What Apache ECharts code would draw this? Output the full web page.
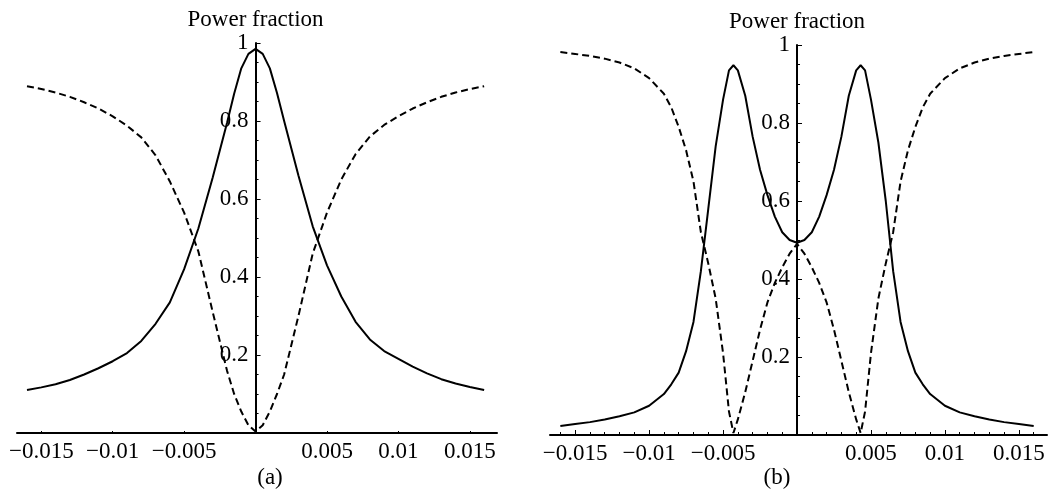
<!DOCTYPE html>
<html>
<head>
<meta charset="utf-8">
<script src="https://cdn.jsdelivr.net/npm/echarts@6/dist/echarts.min.js"></script>
<style>
  html, body { margin: 0; padding: 0; background: #fff; }
  #chart { width: 1049px; height: 495px; }
</style>
</head>
<body>
<div id="chart"></div>
<script>
// Detuning values for panel (a)
const xA = [
  -0.016, -0.015, -0.014, -0.013, -0.012, -0.011, -0.010, -0.009, -0.008,
  -0.007, -0.006, -0.005, -0.004, -0.003, -0.002, -0.0015, -0.001, -0.0005, 0,
  0.0005, 0.001, 0.0015, 0.002, 0.003, 0.004, 0.005, 0.006, 0.007, 0.008,
  0.009, 0.010, 0.011, 0.012, 0.013, 0.014, 0.015, 0.016
];
// Power fraction, solid curve (a)
const solidA = [
  0.110, 0.117, 0.125, 0.136, 0.150, 0.166, 0.184, 0.205, 0.236,
  0.280, 0.335, 0.420, 0.525, 0.655, 0.795, 0.870, 0.935, 0.972, 0.985,
  0.972, 0.935, 0.872, 0.800, 0.660, 0.530, 0.430, 0.350, 0.285, 0.240,
  0.210, 0.190, 0.170, 0.153, 0.138, 0.127, 0.118, 0.110
];
// Power fraction, dashed curve (a)
const dashedA = [
  0.889, 0.882, 0.873, 0.862, 0.848, 0.832, 0.812, 0.788, 0.758,
  0.712, 0.645, 0.565, 0.465, 0.310, 0.160, 0.100, 0.055, 0.020, 0.004,
  0.020, 0.055, 0.100, 0.150, 0.300, 0.460, 0.565, 0.650, 0.715, 0.760,
  0.790, 0.812, 0.832, 0.848, 0.862, 0.873, 0.882, 0.889
];

// Detuning values for panel (b)
const xB = [
  -0.016, -0.015, -0.014, -0.013, -0.012, -0.011, -0.010, -0.009, -0.0085,
  -0.008, -0.0075, -0.007, -0.0065, -0.006, -0.0055, -0.005, -0.0046, -0.0043,
  -0.004, -0.0035, -0.003, -0.0025, -0.002, -0.0015, -0.001, -0.0005, 0,
  0.0005, 0.001, 0.0015, 0.002, 0.0025, 0.003, 0.0035, 0.004,
  0.0043, 0.0046, 0.005, 0.0055, 0.006, 0.0065, 0.007, 0.0075,
  0.008, 0.0085, 0.009, 0.010, 0.011, 0.012, 0.013, 0.014, 0.015, 0.016
];
// Power fraction, solid curve (b)
const solidB = [
  0.023, 0.028, 0.033, 0.040, 0.048, 0.058, 0.075, 0.105, 0.130,
  0.160, 0.215, 0.290, 0.420, 0.580, 0.740, 0.860, 0.935, 0.948,
  0.935, 0.870, 0.765, 0.680, 0.615, 0.560, 0.520, 0.500, 0.493,
  0.500, 0.520, 0.560, 0.615, 0.680, 0.765, 0.870, 0.935,
  0.948, 0.935, 0.860, 0.750, 0.600, 0.420, 0.290, 0.215,
  0.160, 0.130, 0.105, 0.075, 0.058, 0.048, 0.040, 0.033, 0.028, 0.023
];
// Power fraction, dashed curve (b)
const dashedB = [
  0.982, 0.977, 0.972, 0.965, 0.955, 0.940, 0.915, 0.875, 0.840,
  0.790, 0.730, 0.650, 0.520, 0.440, 0.350, 0.210, 0.060, 0.005,
  0.040, 0.110, 0.190, 0.270, 0.340, 0.390, 0.430, 0.465, 0.490,
  0.465, 0.430, 0.390, 0.340, 0.270, 0.190, 0.110, 0.040,
  0.005, 0.060, 0.210, 0.350, 0.440, 0.520, 0.650, 0.730,
  0.790, 0.840, 0.875, 0.915, 0.940, 0.955, 0.965, 0.972, 0.977, 0.982
];

// Axis ticks
const xMajorTicks = [-0.015, -0.01, -0.005, 0.005, 0.01, 0.015];
const xMinorTicks = [
  -0.016, -0.014, -0.013, -0.012, -0.011, -0.009, -0.008, -0.007, -0.006,
  -0.004, -0.003, -0.002, -0.001, 0.001, 0.002, 0.003, 0.004,
  0.006, 0.007, 0.008, 0.009, 0.011, 0.012, 0.013, 0.014, 0.016
];
const yTickStep = 0.2;
const yAxisTitle = 'Power fraction';
const panelLabels = ['(a)', '(b)'];

const FONT = '"Liberation Serif", "DejaVu Serif", serif';
const FONT_SIZE = 23;
const INK = '#000';
const X_MIN = -0.0167;
const X_MAX = 0.0169;

// Plot frames of the two panels
const frames = [
  { left: 17, top: 43, width: 480, height: 390 },
  { left: 550, top: 45, width: 497, height: 390 }
];

function pairs(xs, ys) {
  return xs.map((x, i) => [x, ys[i]]);
}

function fmtX(v) {
  return String(v).replace('-', '\u2212');
}

function xAxisMain(grid, tickLen) {
  return {
    type: 'value', gridIndex: grid, position: 'bottom',
    min: X_MIN, max: X_MAX,
    axisLine: { show: true, onZero: false, lineStyle: { color: INK, width: 2 } },
    axisTick: { show: true, inside: true, length: tickLen, customValues: xMajorTicks,
      lineStyle: { color: INK, width: 1 } },
    axisLabel: { show: true, customValues: xMajorTicks, formatter: fmtX,
      color: INK, fontFamily: FONT, fontSize: FONT_SIZE, margin: 7 },
    splitLine: { show: false }
  };
}

function xAxisMinor(grid) {
  return {
    type: 'value', gridIndex: grid, position: 'bottom',
    min: X_MIN, max: X_MAX,
    axisLine: { show: false, onZero: false },
    axisTick: { show: true, inside: true, length: 3, customValues: xMinorTicks,
      lineStyle: { color: INK, width: 1 } },
    axisLabel: { show: false },
    splitLine: { show: false }
  };
}

// Vertical axis drawn through x = 0 of its panel
function yAxisMain(grid) {
  const f = frames[grid];
  const shift = f.width * (0 - X_MIN) / (X_MAX - X_MIN);
  return {
    type: 'value', gridIndex: grid, position: 'left', offset: -shift,
    min: 0, max: 1, interval: yTickStep,
    name: yAxisTitle, nameLocation: 'end', nameGap: 12,
    nameTextStyle: { color: INK, fontFamily: FONT, fontSize: FONT_SIZE },
    axisLine: { show: true, onZero: false, lineStyle: { color: INK, width: 2 } },
    axisTick: { show: true, inside: true, length: 5, lineStyle: { color: INK, width: 1 } },
    minorTick: { show: true, splitNumber: 4, length: 3, lineStyle: { color: INK, width: 1 } },
    axisLabel: { color: INK, fontFamily: FONT, fontSize: FONT_SIZE, margin: 7,
      formatter: v => (v === 0 ? '' : String(v)) },
    splitLine: { show: false },
    minorSplitLine: { show: false }
  };
}

function curve(xi, yi, data, dashed) {
  return {
    type: 'line', xAxisIndex: xi, yAxisIndex: yi, data: data,
    showSymbol: false, smooth: false, silent: true,
    lineStyle: { color: INK, width: 2, type: dashed ? [7, 4] : 'solid' }
  };
}

const chart = echarts.init(document.getElementById('chart'), null, { renderer: 'canvas' });
chart.setOption({
  animation: false,
  backgroundColor: '#fff',
  grid: frames.map(f => Object.assign({ outerBoundsMode: 'none', containLabel: false }, f)),
  xAxis: [xAxisMain(0, 2), xAxisMain(1, 5), xAxisMinor(1)],
  yAxis: [yAxisMain(0), yAxisMain(1)],
  series: [
    curve(0, 0, pairs(xA, solidA), false),
    curve(0, 0, pairs(xA, dashedA), true),
    curve(1, 1, pairs(xB, solidB), false),
    curve(1, 1, pairs(xB, dashedB), true)
  ],
  graphic: [
    { type: 'text', x: 270, y: 478, silent: true,
      style: { text: panelLabels[0], fill: INK, font: FONT_SIZE + 'px ' + FONT, textAlign: 'center', verticalAlign: 'middle' } },
    { type: 'text', x: 777, y: 478, silent: true,
      style: { text: panelLabels[1], fill: INK, font: FONT_SIZE + 'px ' + FONT, textAlign: 'center', verticalAlign: 'middle' } }
  ]
});
</script>
</body>
</html>
